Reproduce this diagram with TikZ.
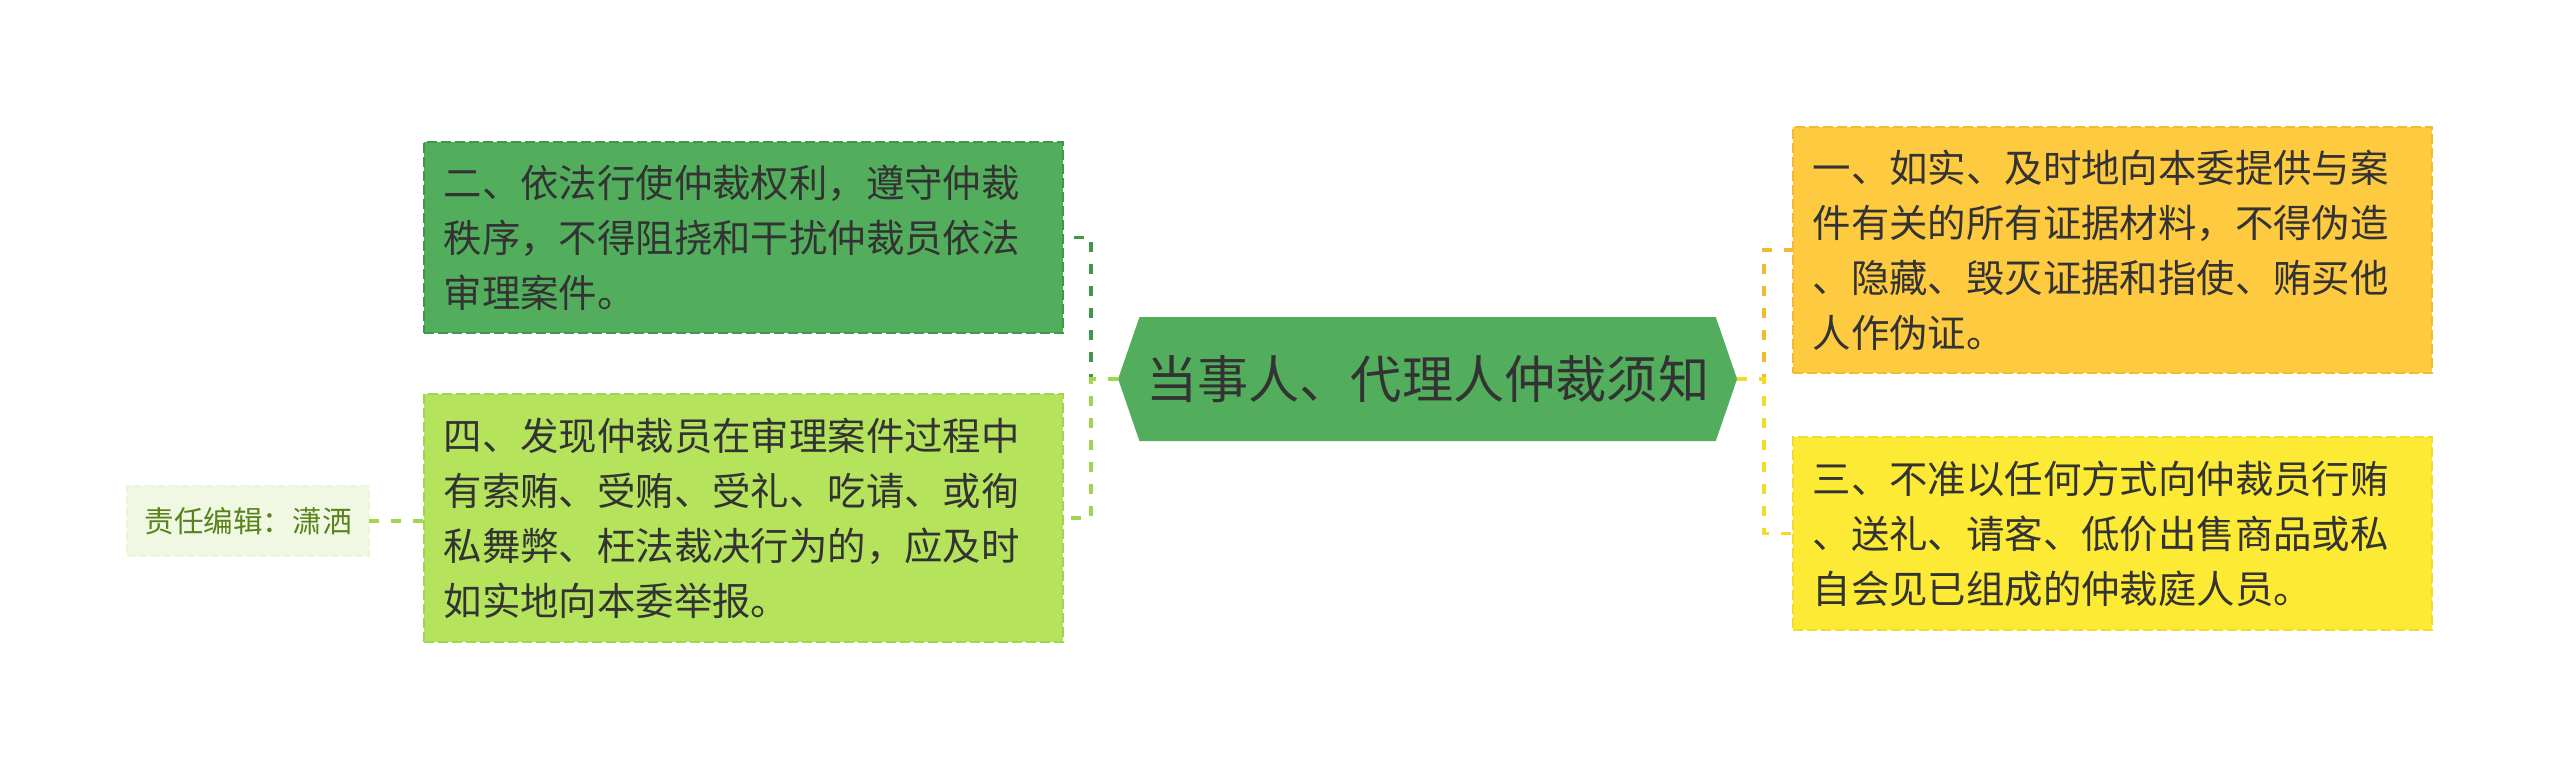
\documentclass[tikz,border=0pt]{standalone}
\usepackage{fontspec}
\setmainfont{Noto Sans CJK SC}
\usepackage{tikz}
\usetikzlibrary{positioning,shapes.symbols}

\definecolor{textgray}{RGB}{51,51,51}
\definecolor{maingreen}{RGB}{82,174,92}
\definecolor{darkgreen}{RGB}{62,152,74}
\definecolor{limegreen}{RGB}{181,227,92}
\definecolor{limeline}{RGB}{160,214,78}
\definecolor{amber}{RGB}{253,202,64}
\definecolor{amberline}{RGB}{242,186,48}
\definecolor{lemon}{RGB}{253,234,52}
\definecolor{lemonline}{RGB}{242,220,40}
\definecolor{palegreen}{RGB}{240,248,228}
\definecolor{oliveink}{RGB}{90,130,28}

\begin{document}
\begin{tikzpicture}[
	every node/.style={outer sep=0pt, text=textgray},
	topic/.style={signal, signal to=west and east, signal pointer angle=142,
		fill=maingreen, minimum width=154.75pt, minimum height=31pt, inner sep=0pt,
		font=\fontsize{12.8pt}{15pt}\selectfont},
	card/.style={rectangle, draw, dash pattern=on 2.5pt off 1pt, line width=0.5pt,
		text width=150pt, align=left, inner xsep=4.875pt, inner ysep=0pt,
		minimum width=159.75pt, font=\fontsize{9.6pt}{13.75pt}\selectfont},
	editor/.style={rectangle, fill=palegreen, draw=palegreen!92!limegreen,
		dash pattern=on 2pt off 1pt, line width=0.4pt, text=oliveink,
		minimum width=60.5pt, minimum height=17.5pt, inner sep=0pt,
		font=\fontsize{7.4pt}{9pt}\selectfont},
	link/.style={line width=0.9pt, dash pattern=on 2.5pt off 3pt}
]
	\useasboundingbox (0,0) rectangle (640pt,-193pt);

	\node[topic] (cen) at (356.9pt,-94.75pt) {当事人、代理人仲裁须知};

	\node[card, fill=maingreen, draw=darkgreen, minimum height=47.75pt] (b2)
		[left=13.75pt of cen, yshift=35.35pt]
		{二、依法行使仲裁权利，遵守仲裁\\秩序，不得阻挠和干扰仲裁员依法\\审理案件。};
	\node[card, fill=limegreen, draw=limeline, minimum height=62pt] (b4)
		[left=13.75pt of cen, yshift=-34.75pt]
		{四、发现仲裁员在审理案件过程中\\有索贿、受贿、受礼、吃请、或徇\\私舞弊、枉法裁决行为的，应及时\\如实地向本委举报。};
	\node[card, fill=amber, draw=amberline, minimum height=61.5pt] (b1)
		[right=14pt of cen, yshift=32.25pt]
		{一、如实、及时地向本委提供与案\\件有关的所有证据材料，不得伪造\\、隐藏、毁灭证据和指使、贿买他\\人作伪证。};
	\node[card, fill=lemon, draw=lemonline, minimum height=48.25pt] (b3)
		[right=14pt of cen, yshift=-38.65pt]
		{三、不准以任何方式向仲裁员行贿\\、送礼、请客、低价出售商品或私\\自会见已组成的仲裁庭人员。};

	\node[editor] (ed) [left=13.75pt of b4, yshift=-0.75pt] {责任编辑：潇洒};

	\coordinate (lj) at ([xshift=-6.75pt]cen.west);
	\coordinate (rj) at ([xshift=6.75pt]cen.east);

	\draw[link, darkgreen] (cen.west) -- (lj) |- (b2.east);
	\draw[link, limeline] (cen.west) -- (lj) |- (b4.east);
	\draw[link, amberline] (cen.east) -- (rj) |- (b1.west);
	\draw[link, lemonline] (cen.east) -- (rj) |- (b3.west);
	\draw[link, limeline] (ed.east) -- (ed.east -| b4.west);
\end{tikzpicture}
\end{document}
